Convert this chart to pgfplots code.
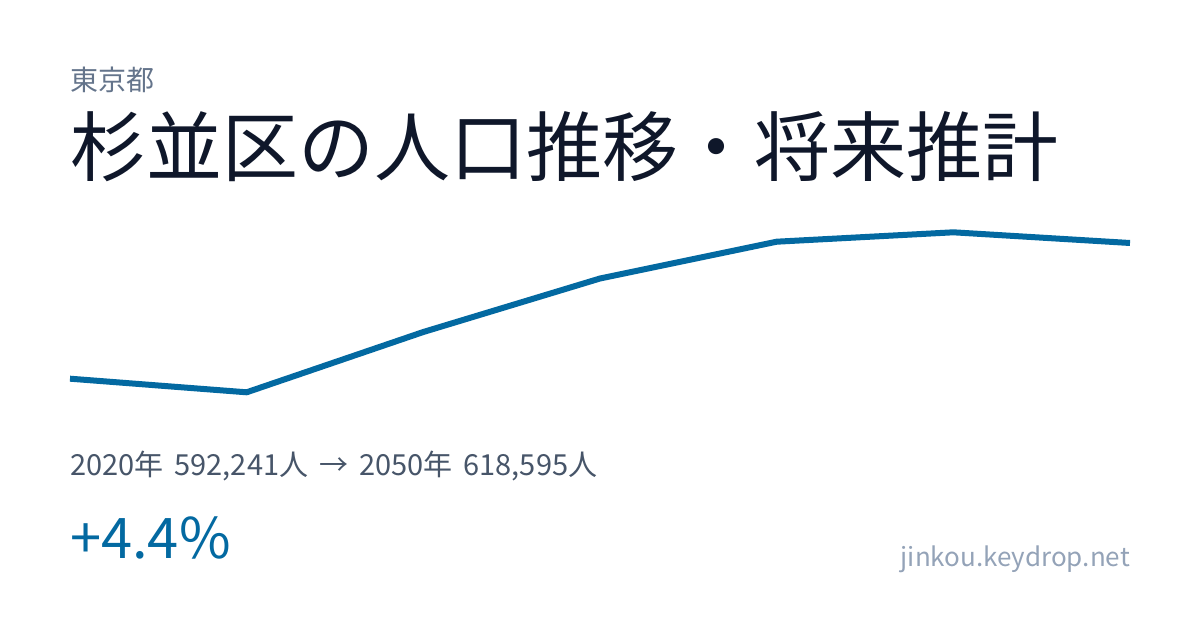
\documentclass[border=0pt]{standalone}
\usepackage{fontspec}
\setmainfont{Noto Sans CJK JP}
\usepackage{pgfplots}
\pgfplotsset{compat=1.18}
\definecolor{linec}{HTML}{0369A1}
\definecolor{titlec}{HTML}{0F172A}
\definecolor{prefc}{HTML}{64748B}
\definecolor{subc}{HTML}{475569}
\definecolor{urlc}{HTML}{94A3B8}
\newcommand{\gap}{\hspace{11pt}}

\begin{document}
\begin{tikzpicture}[x=1pt,y=1pt]
  \path[fill=white] (0,0) rectangle (1200,630);
  % texts (y measured from the bottom of the card)
  \node[anchor=base west,inner sep=0,text=prefc,font=\fontsize{28pt}{32pt}\selectfont] at (70,539) {東京都};
  \node[anchor=base west,inner sep=0,text=titlec,font=\fontsize{76pt}{80pt}\selectfont] at (70,454) {杉並区の人口推移・将来推計};
  \node[anchor=base west,inner sep=0,text=subc,font=\fontsize{29pt}{33pt}\selectfont] at (70,155)
    {2020年\gap 592,241人\gap →\gap 2050年\gap 618,595人};
  \node[anchor=base west,inner sep=0,text=linec,font=\fontsize{56pt}{60pt}\selectfont] at (70,72) {+4.4\%};
  \node[anchor=base east,inner sep=0,text=urlc,font=\fontsize{26pt}{30pt}\selectfont] at (1130,64) {jinkou.keydrop.net};

  \begin{axis}[
    at={(70pt,230pt)}, anchor=south west,
    scale only axis, width=1060pt, height=180pt,
    hide axis, clip=false,
    xmin=2020, xmax=2050,
    ymin=588104, ymax=623062,
    ]
    \addplot[linec, line width=6pt, line join=round, mark=none] coordinates {
      (2020,592241) (2025,589600) (2030,601310) (2035,611700)
      (2040,618846) (2045,620672) (2050,618595)
    };
  \end{axis}
\end{tikzpicture}
\end{document}
